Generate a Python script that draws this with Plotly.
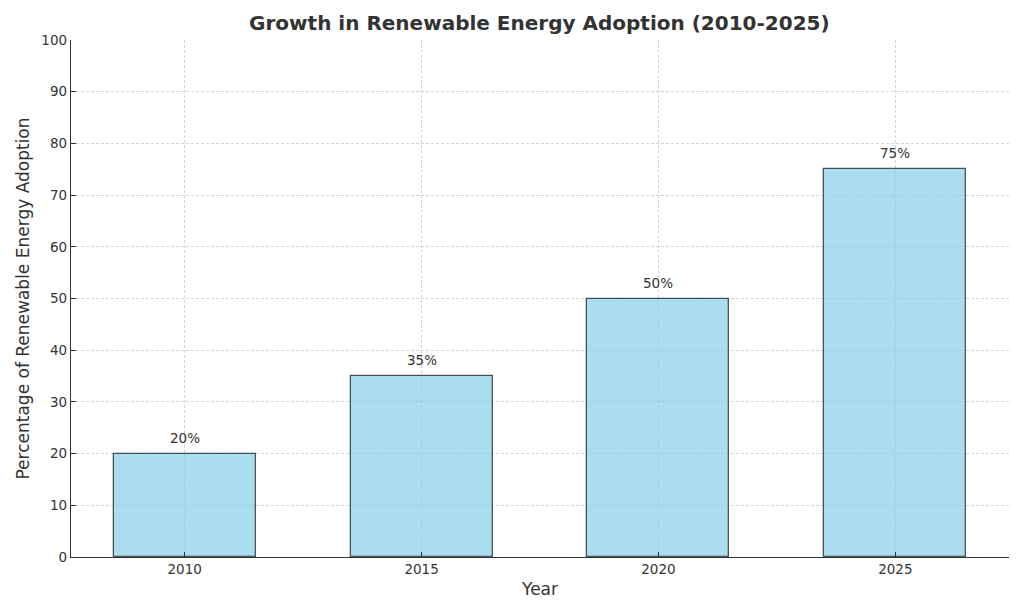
import plotly.graph_objects as go

years = ["2010", "2015", "2020", "2025"]
adoption = [20, 35, 50, 75]
labels = ["20%", "35%", "50%", "75%"]

fig = go.Figure()
fig.add_trace(go.Bar(
    x=years, y=adoption, width=0.6,
    marker=dict(color="rgba(135,206,235,0.7)",
                line=dict(color="rgba(0,0,0,0.65)", width=1.3)),
    hoverinfo="x+y",
))

for i, (v, t) in enumerate(zip(adoption, labels)):
    fig.add_annotation(x=i, y=v, text=t, showarrow=False, yanchor="bottom",
                       yshift=6, font=dict(size=13.5, color="#333333"))

axis_common = dict(
    showgrid=True, gridcolor="rgba(176,176,176,0.55)", griddash="3px,2px", gridwidth=0.8,
    showline=True, linecolor="#333333", linewidth=1.3,
    ticks="inside", ticklen=5, tickcolor="#333333", tickwidth=1,
    tickfont=dict(size=13.5, color="#333333"), zeroline=False, automargin=False,
)

fig.update_layout(
    width=1016, height=606,
    margin=dict(l=63, r=15, t=32, b=57),
    paper_bgcolor="white", plot_bgcolor="white",
    font=dict(family="DejaVu Sans", color="#333333"),
    title=dict(text="<b>Growth in Renewable Energy Adoption (2010-2025)</b>",
               x=0.523, xanchor="center", y=0.975, yanchor="middle",
               font=dict(size=20, color="#333333")),
    xaxis=dict(type="category", range=[-0.48, 3.48],
               title=dict(text="Year", font=dict(size=17, color="#333333"), standoff=6),
               **axis_common),
    yaxis=dict(range=[0, 100], dtick=10,
               title=dict(text="Percentage of Renewable Energy Adoption",
                          font=dict(size=17, color="#333333"), standoff=7),
               **axis_common),
    showlegend=False,
    bargap=0,
)

fig.write_html("out.html")
